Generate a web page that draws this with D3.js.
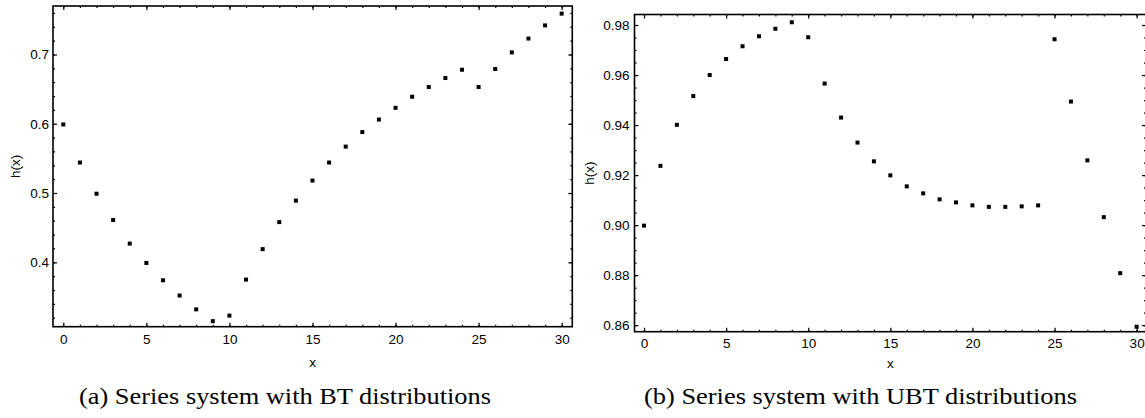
<!DOCTYPE html>
<html>
<head>
<meta charset="utf-8">
<script src="https://cdn.jsdelivr.net/npm/d3@7"></script>
<style>
  body { margin: 0; background: #fff; }
  .tick text { font-family: "Liberation Sans", Arial, sans-serif; font-size: 13.5px; fill: #000; }
  .lbl { font-family: "Liberation Sans", Arial, sans-serif; font-size: 13.5px; }
  .cap { font-family: "Liberation Serif", "Times New Roman", serif; font-size: 22.5px; }
</style>
</head>
<body>
<svg id="chart" width="1145" height="418"></svg>
<script>
// ---- DATA ----
var xVals = [0, 1, 2, 3, 4, 5, 6, 7, 8, 9, 10, 11, 12, 13, 14, 15,
             16, 17, 18, 19, 20, 21, 22, 23, 24, 25, 26, 27, 28, 29, 30];

var hBT = [0.599, 0.544, 0.499, 0.461, 0.427, 0.399, 0.374, 0.352, 0.332, 0.315,
           0.323, 0.375, 0.419, 0.458, 0.489, 0.518, 0.544, 0.567, 0.588, 0.606,
           0.623, 0.639, 0.653, 0.666, 0.678, 0.653, 0.679, 0.703, 0.723, 0.742, 0.759];

var hUBT = [0.8998, 0.9237, 0.9401, 0.9516, 0.9600, 0.9664, 0.9715, 0.9755, 0.9785, 0.9811,
            0.9751, 0.9566, 0.9430, 0.9330, 0.9255, 0.9199, 0.9155, 0.9127, 0.9103, 0.9091,
            0.9079, 0.9073, 0.9073, 0.9075, 0.9079, 0.9743, 0.9494, 0.9259, 0.9032, 0.8808, 0.8594];

var xTicks = [0, 5, 10, 15, 20, 25, 30];
var btYTicks = [0.4, 0.5, 0.6, 0.7];
var ubtYTicks = [0.86, 0.88, 0.90, 0.92, 0.94, 0.96, 0.98];

var captions = ["(a) Series system with BT distributions",
                "(b) Series system with UBT distributions"];

var svg = d3.select("#chart");

var drawPanel = function (opt) {
    var x = d3.scaleLinear().domain(opt.xDomain).range([opt.left, opt.right]);
    var y = d3.scaleLinear().domain(opt.yDomain).range([opt.bottom, opt.top]);
    var g = svg.append("g");

    // minor + major ticks on all four sides, pointing inward
    var addAxis = function (axisFn, scale, ticks, size, transform, fmt) {
        var ax = axisFn(scale).tickValues(ticks).tickSize(-size);
        if (fmt) { ax.tickFormat(fmt).tickPadding(opt.pad); } else { ax.tickFormat(""); }
        var a = g.append("g").attr("transform", transform).call(ax);
        a.select(".domain").remove();
        a.selectAll("line").attr("stroke", "#000").attr("stroke-width", 1.2);
        return a;
    };

    var bottomT = "translate(0," + opt.bottom + ")",
        topT = "translate(0," + opt.top + ")",
        leftT = "translate(" + opt.left + ",0)",
        rightT = "translate(" + opt.right + ",0)";

    [[d3.axisBottom, bottomT], [d3.axisTop, topT]].forEach(function (s) {
        addAxis(s[0], x, opt.xMinor, 2, s[1]);
    });
    [[d3.axisLeft, leftT], [d3.axisRight, rightT]].forEach(function (s) {
        addAxis(s[0], y, opt.yMinor, 2, s[1]);
    });

    addAxis(d3.axisBottom, x, xTicks, 4, bottomT, d3.format("d"))
        .selectAll("text").attr("dy", "0").attr("y", opt.xLabelDy);
    addAxis(d3.axisTop, x, xTicks, 4, topT);
    addAxis(d3.axisLeft, y, opt.yTicks, 4, leftT, opt.yFmt);
    addAxis(d3.axisRight, y, opt.yTicks, 4, rightT);

    // frame
    g.append("rect")
        .attr("x", opt.left).attr("y", opt.top)
        .attr("width", opt.right - opt.left).attr("height", opt.bottom - opt.top)
        .attr("fill", "none").attr("stroke", "#000").attr("stroke-width", 1.6);

    // points
    g.selectAll("rect.pt")
        .data(opt.values)
        .enter()
        .append("rect")
            .attr("class", "pt")
            .attr("x", function (v, i) { return x(xVals[i]) - 2; })
            .attr("y", function (v) { return y(v) - 2; })
            .attr("width", 4)
            .attr("height", 4)
            .attr("fill", "#000");

    // axis labels
    g.append("text")
        .attr("class", "lbl")
        .attr("text-anchor", "middle")
        .attr("x", (opt.left + opt.right) / 2)
        .attr("y", opt.bottom + opt.xTitleDy)
        .text("x");

    g.append("text")
        .attr("class", "lbl")
        .attr("text-anchor", "middle")
        .attr("transform", "translate(" + opt.yTitleX + "," + ((opt.top + opt.bottom) / 2) + ") rotate(-90)")
        .text("h(x)");

    g.append("text")
        .attr("class", "cap")
        .attr("x", opt.capX)
        .attr("y", 404)
        .attr("textLength", opt.capW)
        .attr("lengthAdjust", "spacingAndGlyphs")
        .text(opt.caption);
};

drawPanel({
    values: hBT,
    left: 53, right: 572.3, top: 6, bottom: 326.7,
    xDomain: [-0.62, 30.64], yDomain: [0.307, 0.770],
    xMinor: xVals, yMinor: d3.range(0.32, 0.77, 0.02),
    yTicks: btYTicks, yFmt: d3.format(".1f"),
    pad: 4, xLabelDy: 17.3, xTitleDy: 40.5, yTitleX: 20,
    capX: 79, capW: 412, caption: captions[0]
});

drawPanel({
    values: hUBT,
    left: 634.5, right: 1146, top: 14.5, bottom: 331.7,
    xDomain: [-0.58, 30.57], yDomain: [0.8574, 0.9842],
    xMinor: xVals, yMinor: d3.range(0.86, 0.984, 0.005),
    yTicks: ubtYTicks, yFmt: d3.format(".2f"),
    pad: 5, xLabelDy: 16.5, xTitleDy: 36.5, yTitleX: 594,
    capX: 644, capW: 433, caption: captions[1]
});
</script>
</body>
</html>
